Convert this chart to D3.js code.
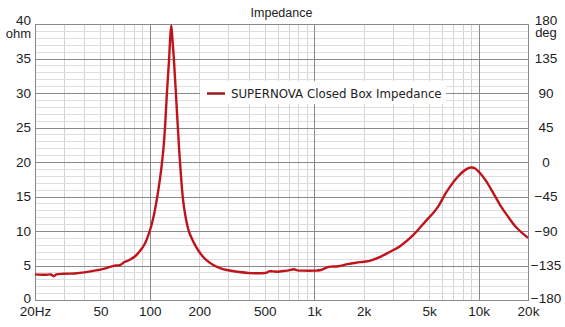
<!DOCTYPE html>
<html><head><meta charset="utf-8">
<script src="https://cdn.jsdelivr.net/npm/d3@7"></script>
<style>
body{margin:0;background:#fff;}
svg{display:block;}
text{font-family:"Liberation Sans",Arial,sans-serif;fill:#222;}
</style></head>
<body><svg id="c" width="565" height="327"></svg>
<script>
// ---- data ----
const freqHz = [20,23,25,26,27,30,35,40,47,50,55,60,65.8,70,75,81,87,93.4,101,106,111,115,118,121,124,127,131,133,135,137,140,144,148,151,154,157,160,164,168,172,180,190,202,220,243,270,294,350,407,450,500,514,530,560,600,650,700,750,790,850,1000,1100,1220,1300,1400,1600,1800,2000,2200,2500,2900,3330,4000,4800,5300,5700,6400,7500,8500,9000,9500,10200,11000,12300,13500,14900,17000,20000];
const impedanceOhm = [3.72,3.65,3.7,3.45,3.7,3.8,3.85,4.0,4.3,4.4,4.65,4.95,5.07,5.5,5.8,6.3,7.1,8.2,10.4,12.4,15.0,17.4,19.5,22,25.5,30,35,38,39.8,38,34.9,30,25,21.5,18.6,16.0,14.1,12.4,11.1,10.1,8.9,7.8,6.8,5.8,5.07,4.6,4.35,4.05,3.9,3.88,3.92,3.96,4.15,4.15,4.1,4.2,4.3,4.45,4.3,4.25,4.25,4.35,4.8,4.85,4.9,5.2,5.4,5.55,5.7,6.2,7.0,7.8,9.4,11.5,12.6,13.6,15.7,17.9,19.0,19.2,19.1,18.4,17.4,15.5,13.8,12.3,10.5,9.0];
const xTickValues = [20,50,100,200,500,1000,2000,5000,10000,20000];
const xTickLabels = ["20Hz","50","100","200","500","1k","2k","5k","10k","20k"];
const yTickValues = [0,5,10,15,20,25,30,35,40];
const yRightTickValues = [-180,-135,-90,-45,0,45,90,135,180];
const chartTitle = "Impedance";
const seriesName = "SUPERNOVA Closed Box Impedance";

// ---- layout ----
const L=35,R=528,T=24,B=300;
const svg=d3.select("#c");
const x=d3.scaleLog().domain([20,20000]).range([L,R]);
const y=d3.scaleLinear().domain([0,40]).range([B,T]);
const yR=d3.scaleLinear().domain([-180,180]).range([B,T]);

const g=svg.append("g");
// minor grid
g.selectAll(".vmin").data(x.ticks()).join("line")
  .attr("x1",d=>Math.round(x(d))+0.5).attr("x2",d=>Math.round(x(d))+0.5)
  .attr("y1",T).attr("y2",B).attr("stroke","#d4d4d4").attr("stroke-width",1);
g.selectAll(".hmin").data(d3.range(0,41,1)).join("line")
  .attr("y1",d=>Math.round(y(d))+0.5).attr("y2",d=>Math.round(y(d))+0.5)
  .attr("x1",L).attr("x2",R).attr("stroke","#dedede").attr("stroke-width",1);
// major grid
g.selectAll(".vmaj").data([100,1000,10000]).join("line")
  .attr("x1",d=>Math.round(x(d))+0.5).attr("x2",d=>Math.round(x(d))+0.5)
  .attr("y1",T).attr("y2",B).attr("stroke","#8a8a8a").attr("stroke-width",1);
g.selectAll(".hmaj").data(yTickValues).join("line")
  .attr("y1",d=>Math.round(y(d))+0.5).attr("y2",d=>Math.round(y(d))+0.5)
  .attr("x1",L).attr("x2",R).attr("stroke","#8a8a8a").attr("stroke-width",1);
// frame
g.append("rect").attr("x",L+0.5).attr("y",T+0.5).attr("width",R-L).attr("height",B-T)
  .attr("fill","none").attr("stroke","#8a8a8a");

// axes
const fs="13.5px";
const ax=svg.append("g").attr("transform",`translate(0,${B})`)
  .call(d3.axisBottom(x).tickValues(xTickValues).tickFormat((d,i)=>xTickLabels[i]).tickSize(0).tickPadding(6));
ax.select(".domain").remove();
ax.selectAll("text").style("font-size",fs).attr("fill","#222");

const ay=svg.append("g").attr("transform",`translate(${L},0)`)
  .call(d3.axisLeft(y).tickValues(yTickValues).tickSize(0).tickPadding(4));
ay.select(".domain").remove();
ay.selectAll("text").style("font-size",fs).attr("fill","#222")
  .attr("dy",d=>d===40?"0.05em":(d===0?"0.15em":"0.32em"));

const ayr=svg.append("g").attr("transform",`translate(${R},0)`)
  .call(d3.axisRight(yR).tickValues(yRightTickValues).tickSize(0).tickPadding(18));
ayr.select(".domain").remove();
ayr.selectAll("text").style("font-size",fs).attr("fill","#222").attr("text-anchor","middle")
  .attr("dy",d=>d===180?"0.05em":(d===-180?"0.2em":"0.32em"));

svg.append("text").attr("x",L-4).attr("y",38).attr("text-anchor","end").style("font-size","13px").text("ohm");
svg.append("text").attr("x",R+18).attr("y",37).attr("text-anchor","middle").style("font-size","13px").text("deg");
svg.append("text").attr("x",(L+R)/2).attr("y",17).attr("text-anchor","middle").style("font-size","12.5px").text(chartTitle);

// curve
const pts=freqHz.map((f,i)=>[f,impedanceOhm[i]]);
const line=d3.line().x(d=>x(d[0])).y(d=>y(d[1])).curve(d3.curveCatmullRom.alpha(0.5));
svg.append("path").datum(pts).attr("d",line).attr("fill","none")
  .attr("stroke","#c0141c").attr("stroke-width",2.4).attr("stroke-linejoin","round");

// legend
const lg=svg.append("g");
lg.append("rect").attr("x",200).attr("y",81).attr("width",246).attr("height",23).attr("fill","#fff");
lg.append("line").attr("x1",207).attr("x2",225).attr("y1",93.5).attr("y2",93.5).attr("stroke","#9b1b1b").attr("stroke-width",2.5);
lg.append("text").attr("x",231).attr("y",98).style("font-size","11.8px").style("font-family","'DejaVu Sans',sans-serif").attr("fill","#111").text(seriesName);
</script></body></html>
